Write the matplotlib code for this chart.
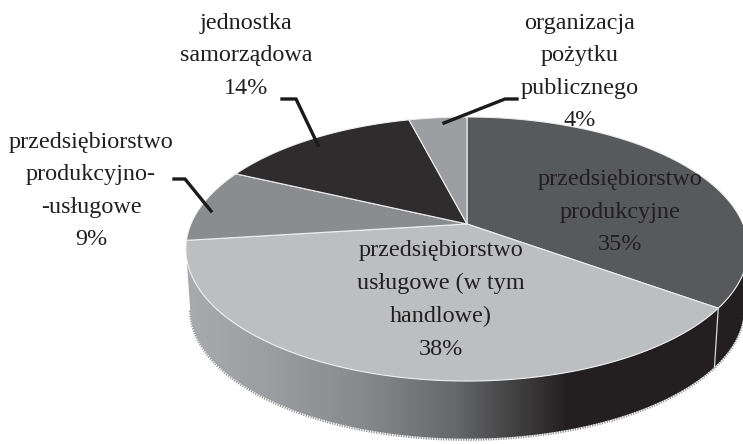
import numpy as np
import matplotlib
matplotlib.use("Agg")
import matplotlib.pyplot as plt
from matplotlib.patches import Polygon
from matplotlib.colors import LinearSegmentedColormap

labels = ['przedsiębiorstwo\nprodukcyjne', 'przedsiębiorstwo\nusługowe (w tym\nhandlowe)',
          'przedsiębiorstwo\nprodukcyjno-\n-usługowe', 'jednostka\nsamorządowa',
          'organizacja\npożytku\npublicznego']
values = [35, 38, 9, 14, 4]
colors = ['#58595b', '#bcbec0', '#8a8c8e', '#2e2c2d', '#9d9ea1']

# label centre (x, y of the block) in picture pixels
label_pos = [(620, 212), (441, 300), (91, 191), (246, 56), (580, 72)]
# leader lines: slice index -> elbow points
leaders = {2: [(174, 179), (185, 179), (211, 211)],
           3: [(282, 99), (296, 99), (318, 145)],
           4: [(517, 99), (505, 99), (444, 123)]}

# pie perspective
CX, CY = 467, 224
RX, RY, K = 276, 127.3, 0.1894
DEPTH, SHRINK = 60, 0.985
TEXT = '#231f20'


def project(theta):
    # theta clockwise from the top, circle -> tilted ellipse
    x, y = np.sin(theta), np.cos(theta)
    d = 1 + K * y
    return RX * x / d, RY * y / d


def top_xy(theta):
    X, Y = project(theta)
    return CX + X, CY - Y


def bottom_xy(theta):
    X, Y = project(theta)
    return CX + SHRINK * X, CY - SHRINK * Y + DEPTH


fig = plt.figure(figsize=(7.43, 4.44), dpi=100)
ax = fig.add_axes([0, 0, 1, 1])
ax.set_xlim(0, 743)
ax.set_ylim(444, 0)
ax.axis('off')

edges = 2 * np.pi * np.concatenate([[0], np.cumsum(values)]) / sum(values)

# side wall with horizontal gradient, between the widest points of the ellipse
t = np.radians(np.linspace(101, 259, 300))
tx, ty = top_xy(t)
bx, by = bottom_xy(t)
wall = Polygon(np.r_[np.c_[tx, ty], np.c_[bx, by][::-1]], closed=True, fc='none', ec='none',
               transform=ax.transData)
ax.add_patch(wall)
cmap = LinearSegmentedColormap.from_list('wall', [
    (0.0, '#231f20'), (0.32, '#231f20'), (0.44, '#4a4a4b'), (0.52, '#666769'),
    (0.68, '#87888b'), (0.85, '#9c9da0'), (1.0, '#a9aaad')])
grad = np.linspace(1, 0, 512).reshape(1, -1)
im = ax.imshow(grad, extent=(187, 748, 444, 100), cmap=cmap, vmin=0, vmax=1,
               aspect='auto', zorder=1)
im.set_clip_path(wall)
ax.set_xlim(0, 743)
ax.set_ylim(444, 0)

# stippled rim under the wall
ax.plot(bx, by + 1, color='#9a9a9a', lw=1.8, ls=(0, (0.5, 0.5)), zorder=0.9)

# white seam on the wall where the first slice ends
seam = edges[1]
sx0, sy0 = top_xy(seam)
sx1, sy1 = bottom_xy(seam)
ax.plot([sx0, sx1], [sy0, sy1], color='#d8d8d8', lw=0.9, zorder=2)

# top face
for i, col in enumerate(colors):
    th = np.linspace(edges[i], edges[i + 1], 120)
    x, y = top_xy(th)
    pts = np.r_[[[CX, CY]], np.c_[x, y]]
    ax.add_patch(Polygon(pts, closed=True, fc=col, ec='#eeeeef', lw=0.8, zorder=3))

# labels
for i, lab in enumerate(labels):
    ax.text(label_pos[i][0], label_pos[i][1], f'{lab}\n{values[i]}%', ha='center', va='center',
            multialignment='center', family='Liberation Serif', fontsize=17.4, linespacing=1.72,
            color=TEXT, zorder=5)

for pts in leaders.values():
    xs, ys = zip(*pts)
    ax.plot(xs, ys, color='#1a1a1a', lw=2.4, solid_joinstyle='miter', zorder=4)

fig.savefig('out.png', dpi=100)
